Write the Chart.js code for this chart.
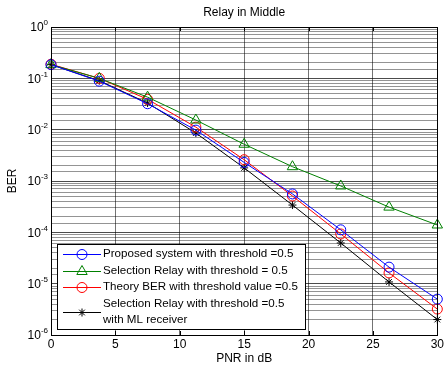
<!DOCTYPE html>
<html>
<head>
<meta charset="utf-8">
<script src="https://cdn.jsdelivr.net/npm/chart.js@4/dist/chart.umd.min.js"></script>
<style>
html,body{margin:0;padding:0;background:#fff;}
canvas{display:block;}
</style>
</head>
<body>
<canvas id="c" width="446" height="366"></canvas>
<script>
const snr = [0, 3.75, 7.5, 11.25, 15, 18.75, 22.5, 26.25, 30];
const proposed = [0.185, 0.088, 0.032, 0.0098, 0.0023, 0.00056, 0.000112, 0.000021, 0.0000050];
const selection = [0.185, 0.100, 0.043, 0.0154, 0.0052, 0.0019, 0.00080, 0.00031, 0.000139];
const theory = [0.188, 0.100, 0.039, 0.0112, 0.0026, 0.00051, 0.000093, 0.0000162, 0.0000032];
const mlReceiver = [0.185, 0.090, 0.033, 0.0086, 0.0018, 0.00034, 0.000062, 0.0000108, 0.0000020];
const xTicks = [0, 5, 10, 15, 20, 25, 30];
const yExponents = [0, -1, -2, -3, -4, -5, -6];
const labels = [
  ['Proposed system with threshold =0.5'],
  ['Selection Relay with threshold = 0.5'],
  ['Theory BER with threshold value =0.5'],
  ['Selection Relay with threshold =0.5', 'with ML receiver']
];
const titleText = 'Relay in Middle';
const FONT = '"Liberation Sans", Arial, sans-serif';

function pts(arr){ return snr.map((x,i)=>({x:x, y:arr[i]})); }

const series = [
  {data: proposed, color:'#0000ff', style:'circle', r:5},
  {data: selection, color:'#008000', style:'triangle', r:6},
  {data: theory, color:'#ff0000', style:'circle', r:5},
  {data: mlReceiver, color:'#000000', style:'star', r:4}
];

const datasets = series.map((s,i)=>({
  label: labels[i].join(' '),
  data: pts(s.data),
  borderColor: s.color,
  backgroundColor: 'rgba(0,0,0,0)',
  borderWidth: 1,
  pointStyle: s.style,
  pointRadius: s.r,
  pointHoverRadius: s.r,
  pointBorderWidth: 1,
  pointBorderColor: s.color,
  pointBackgroundColor: 'rgba(0,0,0,0)',
  tension: 0,
  clip: false
}));

const decor = {
  id: 'decor',
  afterDraw(chart){
    const ctx = chart.ctx;
    const a = chart.chartArea;
    const xs = chart.scales.x, ys = chart.scales.y;
    ctx.save();
    ctx.strokeStyle = '#000';
    ctx.lineWidth = 1;
    ctx.strokeRect(Math.round(a.left)+0.5, Math.round(a.top)+0.5, Math.round(a.right-a.left), Math.round(a.bottom-a.top));
    ctx.beginPath();
    xTicks.forEach(v=>{
      const px = Math.round(xs.getPixelForValue(v))+0.5;
      ctx.moveTo(px, a.bottom); ctx.lineTo(px, a.bottom-4);
      ctx.moveTo(px, a.top); ctx.lineTo(px, a.top+4);
    });
    ctx.stroke();
    ctx.fillStyle = '#000';
    ctx.font = '12px ' + FONT;
    ctx.textAlign = 'center';
    ctx.textBaseline = 'middle';
    ctx.fillText(titleText, (a.left+a.right)/2, 13);
    yExponents.forEach(e=>{
      const py = ys.getPixelForValue(Math.pow(10,e));
      const expStr = e === 0 ? '0' : String(e);
      ctx.font = '8px ' + FONT;
      const we = ctx.measureText(expStr).width;
      ctx.font = '12px ' + FONT;
      const wb = ctx.measureText('10').width;
      const right = a.left - 3;
      ctx.textAlign = 'left';
      ctx.textBaseline = 'middle';
      ctx.fillText('10', right - we - wb, py + 1);
      ctx.font = '8px ' + FONT;
      ctx.fillText(expStr, right - we, py - 4);
    });
    // legend
    const lx = 57, ly = 244, lw = 248, lh = 85;
    ctx.fillStyle = '#fff';
    ctx.fillRect(lx, ly, lw, lh);
    ctx.strokeStyle = '#000';
    ctx.lineWidth = 1;
    ctx.strokeRect(lx+0.5, ly+0.5, lw, lh);
    const rowY = [254, 271, 287, 312];
    series.forEach((s,i)=>{
      const y = rowY[i];
      ctx.strokeStyle = s.color;
      ctx.lineWidth = 1;
      ctx.beginPath();
      ctx.moveTo(63, Math.round(y)+0.5); ctx.lineTo(101, Math.round(y)+0.5);
      ctx.stroke();
      ctx.fillStyle = 'rgba(0,0,0,0)';
      ctx.strokeStyle = s.color;
      Chart.helpers.drawPoint(ctx, {pointStyle: s.style, radius: s.r, borderWidth: 1, rotation: 0}, 82, y + 0.5);
      ctx.fillStyle = '#000';
      ctx.font = '11.6px ' + FONT;
      ctx.textAlign = 'left';
      ctx.textBaseline = 'middle';
      const lines = labels[i];
      if (lines.length === 1) {
        ctx.fillText(lines[0], 103, y);
      } else {
        ctx.fillText(lines[0], 103, y - 8);
        ctx.fillText(lines[1], 103, y + 8);
      }
    });
    ctx.restore();
  }
};

new Chart(document.getElementById('c'), {
  type: 'line',
  data: { datasets: datasets },
  options: {
    responsive: false,
    animation: false,
    devicePixelRatio: 1,
    layout: { padding: {top: 27, right: 5, bottom: 0, left: 0} },
    plugins: {
      legend: { display: false },
      title: { display: false },
      tooltip: { enabled: false }
    },
    scales: {
      x: {
        type: 'linear',
        min: 0, max: 30,
        afterFit(s){ s.height = 31; },
        afterBuildTicks(s){ s.ticks = xTicks.map(v=>({value:v})); },
        ticks: { color:'#000', font:{family: FONT, size:12}, padding: 2, maxRotation: 0, autoSkip: false },
        grid: { color: 'rgba(0,0,0,0.55)', lineWidth: 1, drawTicks: false },
        border: { display: true, color: '#000', width: 1 },
        title: { display: true, text: 'PNR in dB', color:'#000', font:{family: FONT, size:12}, padding:{top:0, bottom:0} }
      },
      y: {
        type: 'logarithmic',
        min: 1e-6, max: 1,
        afterFit(s){ s.width = 51; },
        ticks: { display: false, autoSkip: false },
        grid: {
          drawTicks: false,
          lineWidth: 1,
          color(c){
            const v = c.tick ? c.tick.value : 1;
            const l = Math.log10(v);
            return Math.abs(l - Math.round(l)) < 1e-6 ? 'rgba(0,0,0,0.7)' : 'rgba(0,0,0,0.42)';
          }
        },
        border: { display: true, color: '#000', width: 1 },
        title: { display: true, text: 'BER', color:'#000', font:{family: FONT, size:12}, padding:{top:5, bottom:0} }
      }
    }
  },
  plugins: [decor]
});
</script>
</body>
</html>
